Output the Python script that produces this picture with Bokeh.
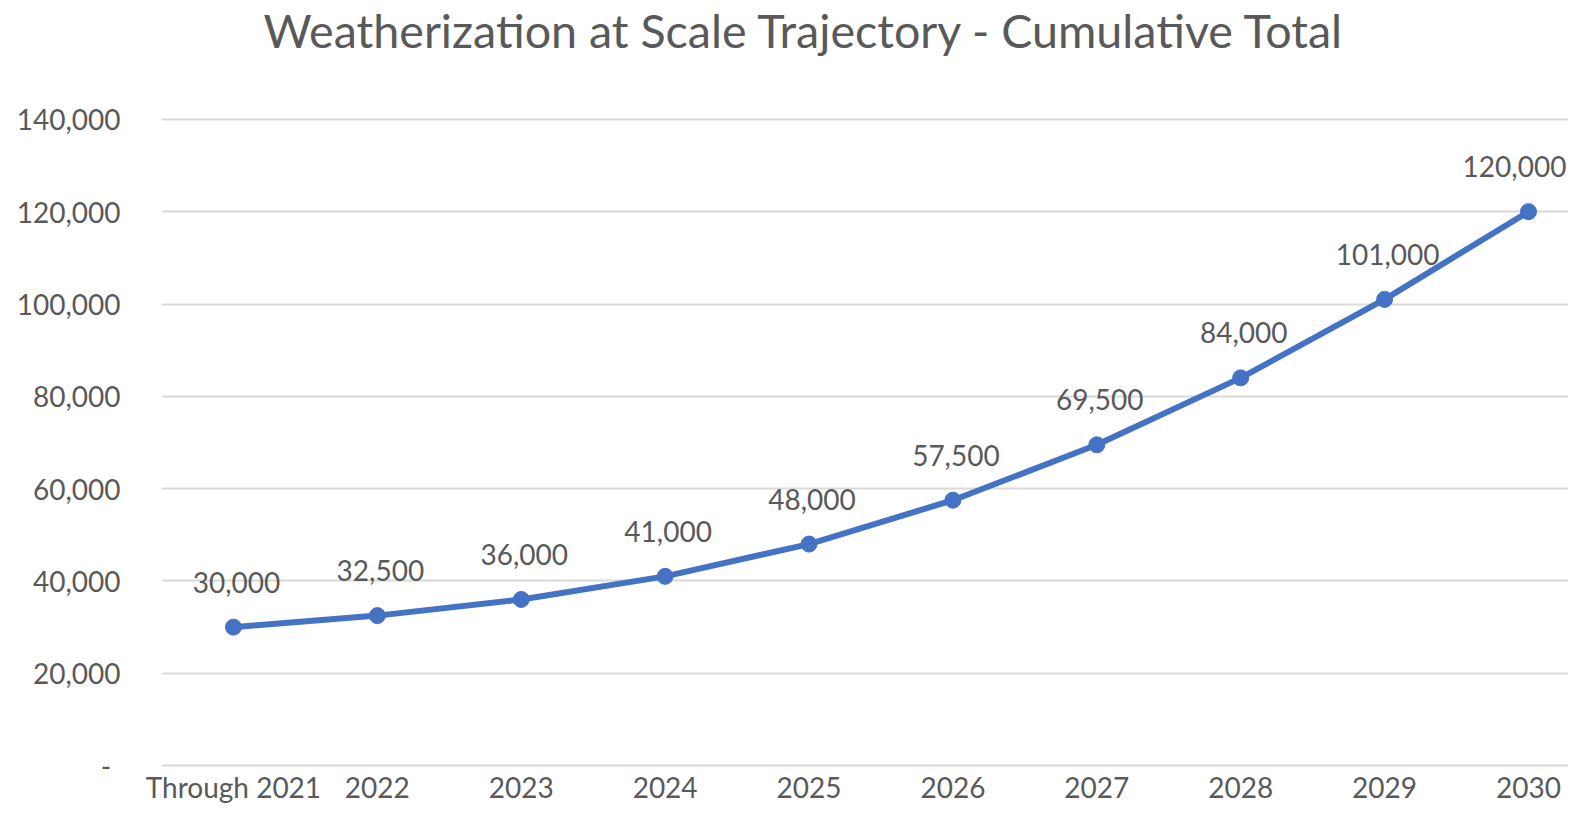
from bokeh.plotting import figure
from bokeh.models import Range1d, FixedTicker, ColumnDataSource, Title
from bokeh.core.properties import value
from bokeh.embed import file_html
from bokeh.resources import INLINE

# ---- data ----
categories = ["Through 2021", "2022", "2023", "2024", "2025",
              "2026", "2027", "2028", "2029", "2030"]
totals = [30000, 32500, 36000, 41000, 48000, 57500, 69500, 84000, 101000, 120000]
y_ticks = [0, 20000, 40000, 60000, 80000, 100000, 120000, 140000]
y_tick_labels = ["-\u2004", "20,000", "40,000", "60,000", "80,000",
                 "100,000", "120,000", "140,000"]
title_text = "Weatherization at Scale Trajectory - Cumulative Total"

# ---- style ----
FONT = "Lato"
TEXT_COLOR = "#595959"
GRID_COLOR = "#D9D9D9"
LINE_COLOR = "#4472C4"
W, H = 1568, 806
BORDER_LEFT, BORDER_TOP, BORDER_BOTTOM = 161, 105, 37

xs = list(range(len(categories)))
label_dx = [3] * len(xs)
label_dx[-1] = -14  # keep the last data label inside the canvas
src = ColumnDataSource(dict(x=xs, y=totals, lbl=[f"{v:,}" for v in totals], dx=label_dx))

p = figure(width=W, height=H, output_backend="svg", toolbar_location=None,
           x_range=Range1d(-0.5, 9.278), y_range=Range1d(-835, 143000),
           min_border_left=BORDER_LEFT, min_border_right=0,
           min_border_top=BORDER_TOP, min_border_bottom=BORDER_BOTTOM,
           background_fill_color="white", border_fill_color="white",
           title=None)
p.outline_line_color = None

# axes
p.xaxis.ticker = FixedTicker(ticks=xs)
p.xaxis.major_label_overrides = {i: c for i, c in enumerate(categories)}
p.yaxis.ticker = FixedTicker(ticks=y_ticks)
p.yaxis.major_label_overrides = {t: l for t, l in zip(y_ticks, y_tick_labels)}
for ax in (p.xaxis[0], p.yaxis[0]):
    ax.axis_line_color = None
    ax.major_tick_line_color = None
    ax.minor_tick_line_color = None
    ax.major_tick_out = 0
    ax.major_tick_in = 0
    ax.major_label_text_font = FONT
    ax.major_label_text_font_size = "28px"
    ax.major_label_text_color = TEXT_COLOR
p.xaxis.major_label_standoff = 0
p.yaxis.major_label_standoff = 41

p.xgrid.grid_line_color = None
p.ygrid.ticker = FixedTicker(ticks=y_ticks)
p.ygrid.grid_line_color = GRID_COLOR
p.ygrid.grid_line_width = 2

# series
p.line("x", "y", source=src, line_width=6, line_color=LINE_COLOR)
p.scatter("x", "y", source=src, size=16, fill_color=LINE_COLOR, line_color=LINE_COLOR)
p.text("x", "y", text="lbl", source=src, text_align="center", text_baseline="alphabetic",
       x_offset="dx", y_offset=-45, text_font=value(FONT), text_font_size="28px",
       text_color=TEXT_COLOR)

# spacer panel next to the plot area, title panel outermost
spacer = Title(text=" ", standoff=33, text_font_size="10px")
p.add_layout(spacer, "above")
title = Title(text=title_text, align="left", offset=102, standoff=0, vertical_align="top",
              text_font=FONT, text_font_size="46.6px", text_font_style="normal",
              text_color=TEXT_COLOR)
p.add_layout(title, "above")

open("out.html", "w").write(file_html(p, INLINE))
